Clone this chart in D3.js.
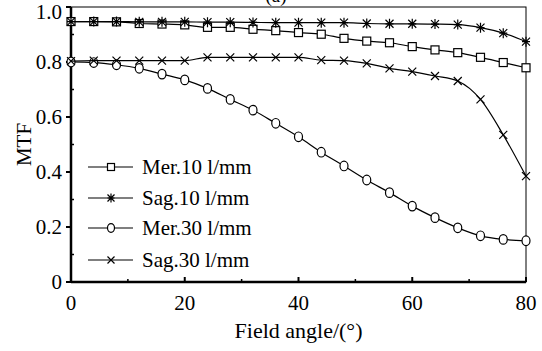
<!DOCTYPE html>
<html>
<head>
<meta charset="utf-8">
<script src="https://cdn.jsdelivr.net/npm/d3@7"></script>
<style>
  body { margin: 0; background: #fff; }
  svg text { font-family: "Liberation Serif", "DejaVu Serif", serif; fill: #000; }
</style>
</head>
<body>
<div id="chart"></div>
<script>
// field angles (deg), markers every 4 degrees
var angles = [0, 4, 8, 12, 16, 20, 24, 28, 32, 36, 40, 44, 48, 52, 56, 60, 64, 68, 72, 76, 80];

var mer10 = [0.947, 0.947, 0.946, 0.940, 0.938, 0.935, 0.926, 0.926, 0.919, 0.914, 0.907,
             0.901, 0.886, 0.876, 0.870, 0.856, 0.844, 0.834, 0.817, 0.798, 0.779];
var sag10 = [0.947, 0.947, 0.947, 0.946, 0.946, 0.946, 0.945, 0.945, 0.944, 0.943, 0.943,
             0.943, 0.943, 0.940, 0.939, 0.939, 0.938, 0.936, 0.925, 0.905, 0.874];
var mer30 = [0.800, 0.798, 0.790, 0.777, 0.756, 0.735, 0.704, 0.664, 0.625, 0.577, 0.528,
             0.472, 0.422, 0.371, 0.325, 0.276, 0.234, 0.197, 0.168, 0.155, 0.150];
var sag30 = [0.803, 0.805, 0.805, 0.805, 0.805, 0.805, 0.817, 0.817, 0.817, 0.817, 0.817,
             0.807, 0.805, 0.795, 0.777, 0.765, 0.749, 0.731, 0.664, 0.535, 0.385];

var seriesNames = ["Mer.10 l/mm", "Sag.10 l/mm", "Mer.30 l/mm", "Sag.30 l/mm"];
var seriesMarks = ["square", "star", "circle", "cross"];
var seriesData = [mer10, sag10, mer30, sag30];

var xTicks = [0, 20, 40, 60, 80];
var yTicks = [0, 0.2, 0.4, 0.6, 0.8, 1.0];

var W = 542, H = 351;
var margin = {top: 7, right: 16, bottom: 69, left: 71};
var width = W - margin.left - margin.right,
    height = H - margin.top - margin.bottom;

var svg = d3.select("#chart").append("svg")
    .attr("width", W).attr("height", H)
    .attr("font-family", "Liberation Serif, DejaVu Serif, serif");

var g = svg.append("g")
    .attr("transform", "translate(" + margin.left + "," + margin.top + ")");

var x = d3.scaleLinear().domain([0, 80]).range([0, width]);
var y = d3.scaleLinear().domain([0, 1]).range([height, 0]);

// frame (top/right thin)
g.append("rect")
    .attr("x", 0).attr("y", 0)
    .attr("width", width).attr("height", height)
    .attr("fill", "none").attr("stroke", "#000").attr("stroke-width", 1);

// panel title, cut off by the top edge like in the source figure
svg.append("text")
    .attr("x", 276).attr("y", 2)
    .attr("text-anchor", "middle")
    .style("font-size", "19px")
    .text("(a)");

// x axis
var xAxis = g.append("g")
    .attr("transform", "translate(0," + height + ")");
xAxis.append("line").attr("x1", 0).attr("x2", width)
    .attr("stroke", "#000").attr("stroke-width", 2.5);
xAxis.selectAll(".maj").data(xTicks).enter().append("line")
    .attr("x1", function(d) { return x(d); }).attr("x2", function(d) { return x(d); })
    .attr("y1", 0).attr("y2", -5).attr("stroke", "#000").attr("stroke-width", 2);
xAxis.selectAll(".min").data([10, 30, 50, 70]).enter().append("line")
    .attr("x1", function(d) { return x(d); }).attr("x2", function(d) { return x(d); })
    .attr("y1", 0).attr("y2", -3).attr("stroke", "#000").attr("stroke-width", 1.5);
xAxis.selectAll("text").data(xTicks).enter().append("text")
    .attr("x", function(d) { return x(d); }).attr("y", 28)
    .attr("text-anchor", "middle")
    .style("font-size", "21px")
    .text(function(d) { return d; });

// y axis
var yAxis = g.append("g");
yAxis.append("line").attr("y1", 0).attr("y2", height + 1)
    .attr("stroke", "#000").attr("stroke-width", 2.5);
yAxis.selectAll(".maj").data(yTicks).enter().append("line")
    .attr("y1", function(d) { return y(d); }).attr("y2", function(d) { return y(d); })
    .attr("x1", 0).attr("x2", -5).attr("stroke", "#000").attr("stroke-width", 2);
yAxis.selectAll(".min").data([0.1, 0.3, 0.5, 0.7, 0.9]).enter().append("line")
    .attr("y1", function(d) { return y(d); }).attr("y2", function(d) { return y(d); })
    .attr("x1", 0).attr("x2", 3).attr("stroke", "#000").attr("stroke-width", 1.5);
yAxis.selectAll("text").data(yTicks).enter().append("text")
    .attr("x", -9).attr("y", function(d) { return Math.max(y(d) + 7, 12); })
    .attr("text-anchor", "end")
    .style("font-size", "21px")
    .text(function(d) { return d === 0 ? "0" : d.toFixed(1); });

// axis titles
svg.append("text")
    .attr("x", margin.left + width / 2).attr("y", 338)
    .attr("text-anchor", "middle")
    .style("font-size", "22px")
    .text("Field angle/(°)");
svg.append("text")
    .attr("transform", "translate(31," + (margin.top + height / 2) + ") rotate(-90)")
    .attr("text-anchor", "middle")
    .style("font-size", "21px")
    .text("MTF");

function drawMark(sel, type, cx, cy, s) {
  var h = s / 2;
  if (type === "square") {
    sel.append("rect").attr("x", cx - h).attr("y", cy - h)
      .attr("width", s).attr("height", s)
      .attr("fill", "#fff").attr("stroke", "#000").attr("stroke-width", 1.2);
  } else if (type === "circle") {
    sel.append("ellipse").attr("cx", cx).attr("cy", cy)
      .attr("rx", h).attr("ry", h + 0.8)
      .attr("fill", "#fff").attr("stroke", "#000").attr("stroke-width", 1.2);
  } else if (type === "cross") {
    sel.append("path")
      .attr("d", "M" + (cx - h) + "," + (cy - h) + "L" + (cx + h) + "," + (cy + h) +
                 "M" + (cx - h) + "," + (cy + h) + "L" + (cx + h) + "," + (cy - h))
      .attr("stroke", "#000").attr("stroke-width", 1.2).attr("fill", "none");
  } else if (type === "star") {
    sel.append("path")
      .attr("d", "M" + (cx - h) + "," + (cy - h) + "L" + (cx + h) + "," + (cy + h) +
                 "M" + (cx - h) + "," + (cy + h) + "L" + (cx + h) + "," + (cy - h) +
                 "M" + cx + "," + (cy - h - 1) + "L" + cx + "," + (cy + h + 1) +
                 "M" + (cx - h) + "," + cy + "L" + (cx + h) + "," + cy)
      .attr("stroke", "#000").attr("stroke-width", 1.2).attr("fill", "none");
  }
}

var line = d3.line()
    .x(function(d) { return x(d[0]); })
    .y(function(d) { return y(d[1]); })
    .curve(d3.curveMonotoneX);

// draw the series
seriesData.forEach(function(vals, i) {
  var pts = angles.map(function(a, j) { return [a, vals[j]]; });
  var sg = g.append("g").attr("class", "series");
  sg.append("path").datum(pts)
    .attr("d", line)
    .attr("fill", "none").attr("stroke", "#000").attr("stroke-width", 1.2);
  pts.forEach(function(p) {
    drawMark(sg, seriesMarks[i], x(p[0]), y(p[1]), 8);
  });
});

// legend
var legY = [167, 198, 228, 260];
var leg = svg.append("g");
seriesNames.forEach(function(name, i) {
  leg.append("line").attr("x1", 88).attr("x2", 133)
    .attr("y1", legY[i]).attr("y2", legY[i])
    .attr("stroke", "#000").attr("stroke-width", 1.2);
  drawMark(leg, seriesMarks[i], 111, legY[i], 7);
  leg.append("text").attr("x", 142).attr("y", legY[i] + 7)
    .style("font-size", "21px")
    .text(name);
});
</script>
</body>
</html>
